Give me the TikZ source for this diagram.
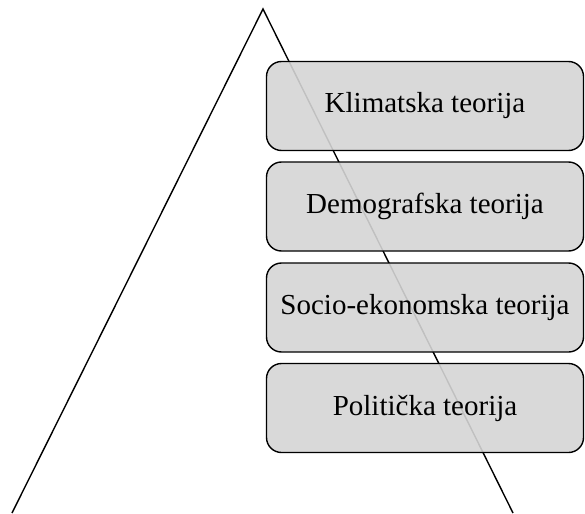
\documentclass[tikz,border=0pt]{standalone}
\usepackage{fontspec}
\setmainfont{Liberation Serif}
\definecolor{boxgray}{RGB}{213,213,213}
\begin{document}
\begin{tikzpicture}[x=1pt,y=-1pt,
  tri/.style={line width=1.4pt, line join=miter},
  theory/.style={draw=black, line width=1.4pt, fill=boxgray, fill opacity=0.9, text opacity=1,
    rounded corners=15pt, minimum width=317pt, minimum height=89pt, inner sep=0pt,
    font=\fontsize{29}{34}\selectfont}]
\useasboundingbox (0,0) rectangle (585,513);
\coordinate (apex) at (263,9);
\coordinate (bl) at (12,513);
\coordinate (br) at (513,513);
\draw[tri] (bl) -- (apex) -- (br);
\node[theory] (k) at (425,106) {Klimatska teorija};
\node[theory] (d) at (425,206.5) {Demografska teorija};
\node[theory] (s) at (425,307.5) {Socio-ekonomska teorija};
\node[theory] (p) at (425,408) {Politička teorija};
\end{tikzpicture}
\end{document}
